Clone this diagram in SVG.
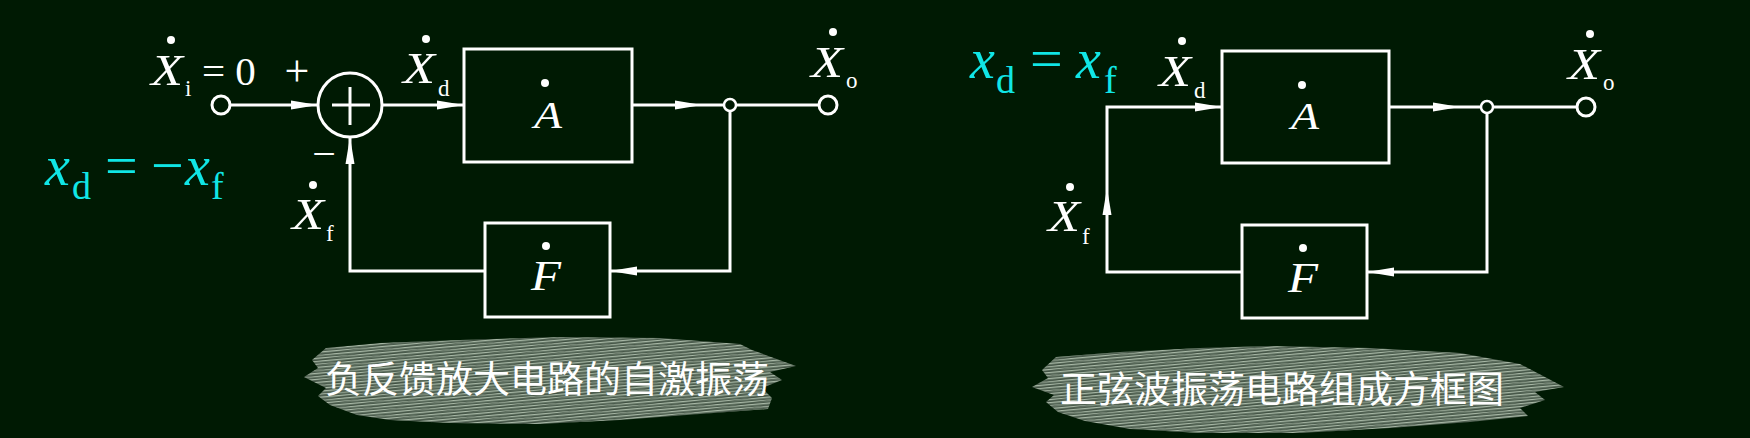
<svg xmlns="http://www.w3.org/2000/svg" xmlns:xlink="http://www.w3.org/1999/xlink" width="1750" height="438" viewBox="0 0 1750 438">
<style>
.ln{fill:none;stroke:#fff;stroke-width:3;stroke-linejoin:miter}
.box{fill:none;stroke:#fff;stroke-width:3}
.term{fill:#001a03;stroke:#fff;stroke-width:3}
.jn{fill:none;stroke:#fff;stroke-width:2.5}
.dot{fill:#fff}
.it{font-family:"Liberation Serif",serif;font-style:italic;fill:#fff}
.rm{font-family:"Liberation Serif",serif;fill:#fff}
.cy{font-family:"Liberation Serif",serif;fill:#10e6e6}
.cap{font-family:"Noto Sans CJK SC","Noto Sans",sans-serif;font-size:37px;fill:#fff}
.arr{fill:#fff}
</style>
<defs>
<path id="arr" class="arr" d="M0,0 L-27,-4.5 L-27,4.5 Z"/>
<pattern id="streak" width="10" height="3" patternUnits="userSpaceOnUse" patternTransform="rotate(-5)">
<rect width="10" height="3" fill="#4a5b4c"/>
<rect y="0" width="10" height="1.3" fill="#a8b8a6"/>
</pattern>
<pattern id="streak2" width="7" height="5" patternUnits="userSpaceOnUse" patternTransform="rotate(-9)">
<rect y="0" width="7" height="1" fill="#2b3a2d"/>
</pattern>
</defs>
<rect width="1750" height="438" fill="#001a03"/>

<g id="connectors">
<line class="ln" x1="230" y1="105" x2="318" y2="105"/>
<use xlink:href="#arr" transform="translate(318,105)"/>
<line class="ln" x1="382" y1="105" x2="464" y2="105"/>
<use xlink:href="#arr" transform="translate(464,105)"/>
<line class="ln" x1="632" y1="105" x2="724" y2="105"/>
<use xlink:href="#arr" transform="translate(702,105)"/>
<line class="ln" x1="736" y1="105" x2="819" y2="105"/>
<polyline class="ln" points="730,111 730,271 610,271"/>
<use xlink:href="#arr" transform="translate(610,271) rotate(180)"/>
<polyline class="ln" points="485,271 350,271 350,137"/>
<use xlink:href="#arr" transform="translate(350,137) rotate(-90)"/>
<polyline class="ln" points="1242,272 1107,272 1107,107 1222,107"/>
<use xlink:href="#arr" transform="translate(1222,107)"/>
<use xlink:href="#arr" transform="translate(1107,188) rotate(-90)"/>
<line class="ln" x1="1389" y1="107" x2="1481" y2="107"/>
<use xlink:href="#arr" transform="translate(1460,107)"/>
<line class="ln" x1="1493" y1="107" x2="1577" y2="107"/>
<polyline class="ln" points="1487,113 1487,272 1367,272"/>
<use xlink:href="#arr" transform="translate(1367,272) rotate(180)"/>
</g>

<g id="in-left">
<circle class="term" cx="221" cy="105" r="9"/>
<circle class="dot" cx="171" cy="40" r="4"/>
<text class="it" x="151" y="85" font-size="44" textLength="32" lengthAdjust="spacingAndGlyphs">X</text>
<text class="rm" x="185" y="96" font-size="23">i</text>
<text class="rm" x="202" y="85" font-size="41">= 0</text>
</g>
<g id="sum">
<circle class="ln" cx="350" cy="105" r="32"/>
<line class="ln" x1="332" y1="105" x2="370" y2="105"/>
<line class="ln" x1="350" y1="87" x2="350" y2="125"/>
<text class="rm" x="297" y="86" font-size="44" text-anchor="middle">+</text>
<text class="rm" x="324" y="168" font-size="42" text-anchor="middle">−</text>
</g>
<g id="xd-left">
<circle class="dot" cx="426" cy="39" r="4"/>
<text class="it" x="403" y="83" font-size="44" textLength="32" lengthAdjust="spacingAndGlyphs">X</text>
<text class="rm" x="438" y="96" font-size="23">d</text>
</g>
<g id="A-left">
<rect class="box" x="464" y="49" width="168" height="113"/>
<circle class="dot" cx="545" cy="83" r="4"/>
<text class="it" x="548" y="128" font-size="38" text-anchor="middle" textLength="28" lengthAdjust="spacingAndGlyphs">A</text>
</g>
<g id="junction-left">
<circle class="jn" cx="730" cy="105" r="6"/>
</g>
<g id="out-left">
<circle class="term" cx="828" cy="105" r="9"/>
<circle class="dot" cx="833" cy="32" r="4"/>
<text class="it" x="811" y="77" font-size="44" textLength="32" lengthAdjust="spacingAndGlyphs">X</text>
<text class="rm" x="846" y="88" font-size="23">o</text>
</g>
<g id="F-left">
<rect class="box" x="485" y="223" width="125" height="94"/>
<circle class="dot" cx="546" cy="246" r="4"/>
<text class="it" x="546" y="290" font-size="42" text-anchor="middle" textLength="30" lengthAdjust="spacingAndGlyphs">F</text>
</g>
<g id="xf-left">
<circle class="dot" cx="313" cy="185" r="4"/>
<text class="it" x="292" y="229" font-size="44" textLength="32" lengthAdjust="spacingAndGlyphs">X</text>
<text class="rm" x="326" y="241" font-size="23">f</text>
</g>
<g id="eq-left">
<text class="cy" x="45" y="185" font-size="56" font-style="italic">x</text>
<text class="cy" x="72" y="199" font-size="38">d</text>
<text class="cy" x="105" y="185" font-size="58">=</text>
<text class="cy" x="151" y="185" font-size="58">−</text>
<text class="cy" x="185" y="185" font-size="56" font-style="italic">x</text>
<text class="cy" x="211" y="199" font-size="38">f</text>
</g>

<g id="eq-right">
<text class="cy" x="970" y="78" font-size="56" font-style="italic">x</text>
<text class="cy" x="996" y="93" font-size="38">d</text>
<text class="cy" x="1030" y="78" font-size="58">=</text>
<text class="cy" x="1076" y="78" font-size="56" font-style="italic">x</text>
<text class="cy" x="1104" y="93" font-size="38">f</text>
</g>
<g id="xd-right">
<circle class="dot" cx="1182" cy="41" r="4"/>
<text class="it" x="1159" y="86" font-size="44" textLength="32" lengthAdjust="spacingAndGlyphs">X</text>
<text class="rm" x="1194" y="98" font-size="23">d</text>
</g>
<g id="A-right">
<rect class="box" x="1222" y="51" width="167" height="112"/>
<circle class="dot" cx="1302" cy="85" r="4"/>
<text class="it" x="1305" y="129" font-size="38" text-anchor="middle" textLength="28" lengthAdjust="spacingAndGlyphs">A</text>
</g>
<g id="junction-right">
<circle class="jn" cx="1487" cy="107" r="6"/>
</g>
<g id="out-right">
<circle class="term" cx="1586" cy="107" r="9"/>
<circle class="dot" cx="1590" cy="34" r="4"/>
<text class="it" x="1568" y="79" font-size="44" textLength="32" lengthAdjust="spacingAndGlyphs">X</text>
<text class="rm" x="1603" y="90" font-size="23">o</text>
</g>
<g id="F-right">
<rect class="box" x="1242" y="225" width="125" height="93"/>
<circle class="dot" cx="1303" cy="248" r="4"/>
<text class="it" x="1303" y="292" font-size="42" text-anchor="middle" textLength="30" lengthAdjust="spacingAndGlyphs">F</text>
</g>
<g id="xf-right">
<circle class="dot" cx="1070" cy="187" r="4"/>
<text class="it" x="1048" y="231" font-size="44" textLength="32" lengthAdjust="spacingAndGlyphs">X</text>
<text class="rm" x="1082" y="244" font-size="23">f</text>
</g>

<g id="caption-left">
<path fill="url(#streak)" d="M304,377 L318,368 L312,360 L326,348 L380,343 L460,340 L560,337 L660,338 L740,344 L752,350 L796,366 L770,372 L782,380 L762,388 L772,398 L768,409 L700,414 L620,420 L540,424 L450,423 L390,420 L357,415 L330,405 L318,396 L326,388 Z"/>
<path fill="url(#streak2)" opacity="0.4" d="M304,377 L318,368 L312,360 L326,348 L380,343 L460,340 L560,337 L660,338 L740,344 L752,350 L796,366 L770,372 L782,380 L762,388 L772,398 L768,409 L700,414 L620,420 L540,424 L450,423 L390,420 L357,415 L330,405 L318,396 L326,388 Z"/>
<text class="cap" x="325" y="393">负反馈放大电路的自激振荡</text>
</g>
<g id="caption-right">
<path fill="url(#streak)" d="M1032,387 L1048,378 L1042,370 L1056,357 L1120,352 L1200,348 L1270,346 L1370,348 L1460,353 L1520,364 L1564,387 L1535,392 L1545,400 L1520,408 L1528,416 L1470,422 L1390,428 L1300,433 L1200,433 L1130,429 L1085,421 L1058,412 L1046,402 L1054,395 Z"/>
<path fill="url(#streak2)" opacity="0.4" d="M1032,387 L1048,378 L1042,370 L1056,357 L1120,352 L1200,348 L1270,346 L1370,348 L1460,353 L1520,364 L1564,387 L1535,392 L1545,400 L1520,408 L1528,416 L1470,422 L1390,428 L1300,433 L1200,433 L1130,429 L1085,421 L1058,412 L1046,402 L1054,395 Z"/>
<text class="cap" x="1060" y="403">正弦波振荡电路组成方框图</text>
</g>
</svg>
